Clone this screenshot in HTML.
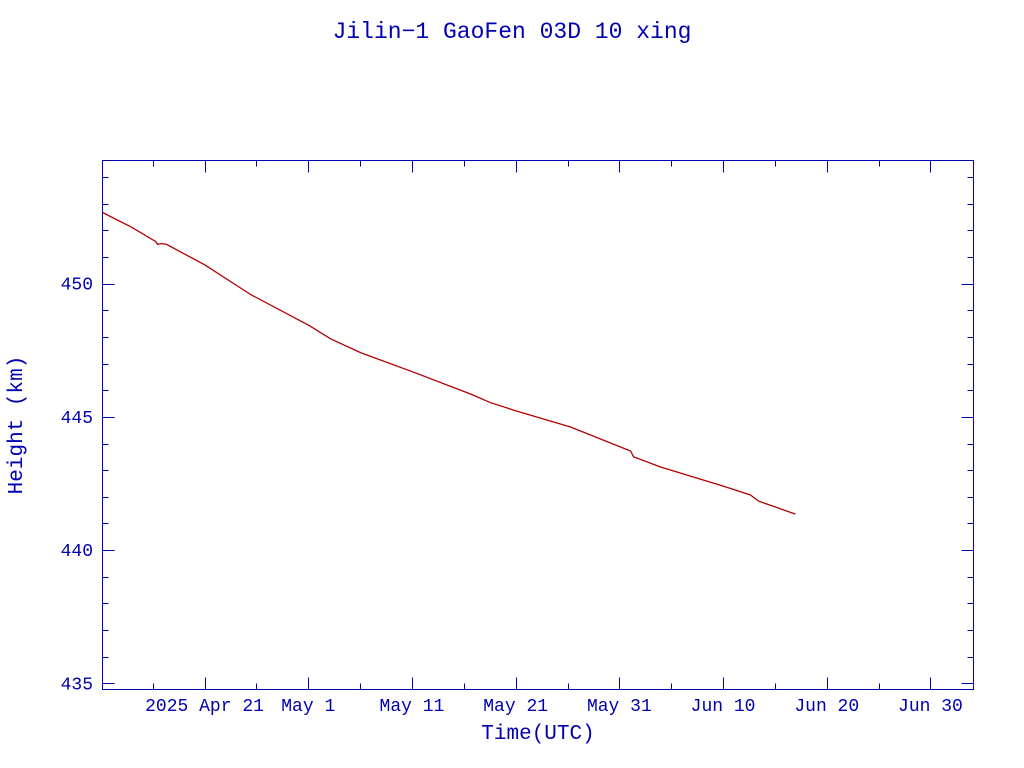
<!DOCTYPE html>
<html><head><meta charset="utf-8"><style>
body{margin:0;background:#fff;}
svg{display:block;font-family:"Liberation Mono",monospace;}
</style></head><body>
<svg id="chart" width="1024" height="768">
<text x="512" y="38" text-anchor="middle" font-size="23" fill="#0000b0">Jilin−1 GaoFen 03D 10 xing</text>
<rect x="102.5" y="160.5" width="871" height="529" fill="none" stroke="#0000b0" stroke-width="1"/>
<g id="axes"></g>
<text x="538" y="739" text-anchor="middle" font-size="21" fill="#0000b0">Time(UTC)</text>
<text transform="translate(22,425) rotate(-90)" text-anchor="middle" font-size="21" fill="#0000b0">Height (km)</text>
<path id="line" fill="none" stroke="#b00000" stroke-width="1.3"/>
</svg>
<script>
// days since 2025 Apr 21
const days=[-9.84,-7.14,-4.72,-4.53,-4.15,-3.66,0,4.44,10.12,12.15,15.04,20.06,25.65,27.58,29.99,35.29,38.18,41.08,41.37,43.97,49.95,52.65,53.42,56.99];
const heights=[452.67,452.14,451.58,451.47,451.50,451.47,450.71,449.59,448.42,447.93,447.41,446.69,445.86,445.53,445.23,444.62,444.17,443.72,443.50,443.12,442.41,442.07,441.84,441.35];
const xTickDays=[0,10,20,30,40,50,60,70];
const xTickLabels=["2025 Apr 21","May  1","May 11","May 21","May 31","Jun 10","Jun 20","Jun 30"];
const yTicks=[435,440,445,450];
const X0=102.5,X1=973.5,Y0=160.5,Y1=689.5;
const dMin=-9.84,dMax=74.15,hMin=434.77,hMax=454.62;
function xs(d){return X0+(d-dMin)/(dMax-dMin)*(X1-X0);}
function ys(h){return Y1-(h-hMin)/(hMax-hMin)*(Y1-Y0);}
const ns="http://www.w3.org/2000/svg";
const g=document.getElementById('axes');
const C="#0000b0";
function line(x1,y1,x2,y2,name){const l=document.createElementNS(ns,'line');
l.setAttribute('x1',x1);l.setAttribute('y1',y1);l.setAttribute('x2',x2);l.setAttribute('y2',y2);
l.setAttribute('stroke',C);


g.appendChild(l);}
for(let d=-5;d<=dMax;d+=5){const x=Math.round(xs(d))+0.5;const len=(d%10===0)?12:6;
line(x,Y1,x,Y1-len,'x-tick');line(x,Y0,x,Y0+len,'x-tick-top');}
for(let h=435;h<=454;h++){const y=Math.round(ys(h))+0.5;const len=(h%5===0)?12:6;
line(X0,y,X0+len,y,'y-tick');line(X1,y,X1-len,y,'y-tick-right');}
xTickDays.forEach((d,i)=>{const t=document.createElementNS(ns,'text');
t.setAttribute('x',xs(d));t.setAttribute('y',711);t.setAttribute('text-anchor','middle');
t.setAttribute('font-size','18');t.setAttribute('fill',C);t.setAttribute('xml:space','preserve');


t.textContent=xTickLabels[i];g.appendChild(t);});
yTicks.forEach(h=>{const t=document.createElementNS(ns,'text');
t.setAttribute('x',93);t.setAttribute('y',ys(h)+6);t.setAttribute('text-anchor','end');
t.setAttribute('font-size','18');t.setAttribute('fill',C);


t.textContent=h;g.appendChild(t);});
document.getElementById('line').setAttribute('d',days.map((d,i)=>(i?'L':'M')+xs(d).toFixed(1)+','+ys(heights[i]).toFixed(1)).join(''));
</script>
</body></html>
